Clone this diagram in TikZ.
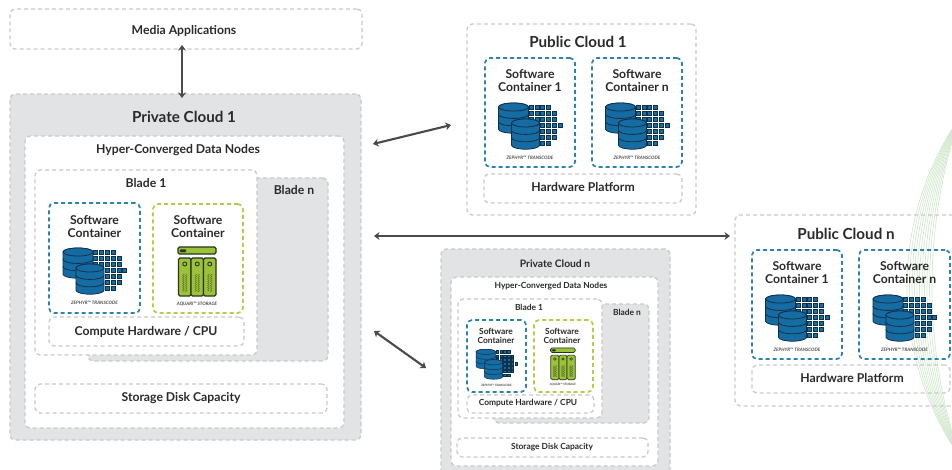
\documentclass[tikz,border=0pt]{standalone}
\usepackage{fontspec}
\setmainfont{Lato Bold}
\usetikzlibrary{
    arrows.meta,
    positioning,
    decorations.pathmorphing
}
\definecolor{boxgray}{HTML}{E2E3E4}
\definecolor{dashgray}{HTML}{C8C9CA}
\definecolor{dashblue}{HTML}{2E82AE}
\definecolor{dashgreen}{HTML}{B4CC48}
\definecolor{dbblue}{HTML}{146CA3}
\definecolor{dbdark}{HTML}{10304A}
\definecolor{nasgreen}{HTML}{9DC23A}
\definecolor{nasdark}{HTML}{26351F}
\definecolor{swirl}{HTML}{D3E8CF}
\definecolor{arrowgray}{HTML}{4A4A4A}
\definecolor{textdark}{HTML}{2A2A2A}
\tikzset{
    % Boxes
    dash box/.style={draw=#1,line width=1.3pt,dash pattern=on 4pt off 3pt,rounded corners=5pt,inner sep=0pt,outer sep=0pt},
    plain box/.style={dash box=dashgray},
    gray box/.style={dash box=dashgray,fill=boxgray},
    white box/.style={dash box=dashgray,fill=white},
    blue box/.style={dash box=dashblue,line width=1.7pt},
    green box/.style={dash box=dashgreen,line width=1.7pt},
    %
    % Text
    big title/.style={font=\fontsize{15.2}{18}\selectfont,text=textdark,yshift=-.5pt},
    mid title/.style={font=\fontsize{12.2}{15}\selectfont,text=textdark,yshift=-.5pt},
    cont title/.style={font=\fontsize{12.2}{13.5}\selectfont,text=textdark,align=center,yshift=-.5pt},
    small title/.style={font=\fontsize{8.4}{9.2}\selectfont,text=textdark,align=center,yshift=-.5pt},
    icon label/.style={font=\fontsize{4.6}{5}\selectfont\itshape,text=black!70,transform shape},
    %
    % Arrows
    arrow tip/.tip={Stealth[length=5.5pt,width=8pt]},
    biarr/.style={<->,>={arrow tip},line width=2.1pt,draw=arrowgray},
    %
    % Swirl
    swirl line/.style={draw=swirl,line width=.7pt},
    %
    % Icons
    square/.style={fill=dbblue,draw=dbdark,line width=.7pt},
    disc/.style={fill=dbblue,draw=dbdark,line width=.8pt},
    bay/.style={fill=nasgreen,draw=nasdark,line width=1.1pt,rounded corners=1.5pt},
    ring/.style={draw=nasdark,line width=.9pt},
    small icon/.style={scale=.65,
        square/.append style={line width=.45pt},
        disc/.append style={line width=.5pt},
        bay/.append style={line width=.7pt},
        ring/.append style={line width=.55pt}},
    pics/zephyr/.style={code={
        \foreach \r/\a/\b in {49/0/3,55.5/0/4,61/0/4,67/1/5,73/1/4,79/1/4,85/1/3}
            \foreach \c in {\a,...,\b}
                \draw[square] ({1.2+5.8*\c-2},\r-2) rectangle +(4,4);
        \dbstack{-16.5}{45}{15}
        \dbstack{-4.5}{61}{14}
        \node[icon label] (label) at (0,100) {ZEPHYR™ TRANSCODE};
    }},
    pics/aquari/.style={code={
        \draw[bay] (-20,43) rectangle (18,50);
        \draw[fill=nasdark,draw=nasdark,rounded corners=1pt] (-18,45.5) rectangle (-12,48);
        \foreach \x in {-19.5,-7,5.5} {
            \draw[bay] (\x,54) rectangle +(12.5,38);
            \draw[ring] (\x+6.25,60) circle (2);
            \draw[nasdark!45!nasgreen,line width=.5pt,decorate,decoration={zigzag,segment length=2pt,amplitude=.8pt}]
                (\x+4.8,70) -- +(0,18) (\x+7.7,70) -- +(0,18);
        }
        \node[icon label] (label) at (-1,100) {AQUARI™ STORAGE};
    }}
}
% draws one stack of three discs: centre x, top y, half width
\newcommand{\dbstack}[3]{
    \foreach \k in {2,1,0} {
        \draw[disc] ({#1-#3},{#2+4+\k*7.4}) -- +(0,7.4) arc[start angle=180,end angle=0,x radius=#3,y radius=4]
            -- +(0,-7.4) arc[start angle=0,end angle=-180,x radius=#3,y radius=4] -- cycle;
    }
    \draw[disc] (#1,#2+4) ellipse[x radius=#3,y radius=4];
}
% style, name, left, top, width, height
\newcommand{\boxat}[6]{
    \node[#1,anchor=north west,minimum width=#5pt,minimum height=#6pt] (#2) at (#3,#4) {};
}

\begin{document}
\begin{tikzpicture}[x=1pt,y=-1pt]
    \useasboundingbox (0,0) rectangle (952,469);
    \clip (0,0) rectangle (952,469);
    % background swirl
    \foreach \d in {5.3,5.05,...,2.7} {
        \pgfmathsetmacro{\rad}{10*(\d*\d+289)/(2*\d)}
        \draw[swirl line] ({960-10*\d+\rad},287) circle (\rad);
    }

    % media applications
    \boxat{plain box}{media}{10}{9}{352}{40}
    \node[mid title] (mediatitle) at (184,30) {Media Applications};

    % private cloud 1
    \boxat{gray box}{priv1}{10}{94}{351}{346}
    \node[big title] (priv1title) at (184,116) {Private Cloud 1};
    \boxat{white box}{priv1hc}{25}{136}{319}{292}
    \node[mid title] (priv1hctitle) at (178,150) {Hyper-Converged Data Nodes};
    \boxat{gray box}{priv1bn}{88}{178}{240}{183}
    \node[mid title] (priv1bntitle) at (294,190) {Blade n};
    \boxat{white box}{priv1b1}{35}{170}{222}{185}
    \node[mid title] (priv1b1title) at (146,183) {Blade 1};
    \boxat{blue box}{priv1sa}{49}{203}{91}{110}
    \node[cont title] (priv1satitle) at (94.5,226) {Software\\Container};
    \pic (priv1za) at (94.5,203) {zephyr};
    \boxat{green box}{priv1sb}{153}{204}{90}{109}
    \node[cont title] (priv1sbtitle) at (198,226) {Software\\Container};
    \pic (priv1aq) at (198,204) {aquari};
    \boxat{plain box}{priv1cpu}{49}{317}{195}{29}
    \node[mid title] (priv1cputitle) at (146,331) {Compute Hardware / CPU};
    \boxat{plain box}{priv1disk}{35}{384}{292}{29}
    \node[mid title] (priv1disktitle) at (181,398) {Storage Disk Capacity};

    % public cloud 1
    \boxat{plain box}{pub1}{467}{24}{229}{191}
    \node[big title] (pub1title) at (578,41) {Public Cloud 1};
    \boxat{blue box}{pub1sa}{485}{58}{90}{109}
    \node[cont title] (pub1satitle) at (530,80) {Software\\Container 1};
    \pic (pub1za) at (530,58) {zephyr};
    \boxat{blue box}{pub1sb}{592}{58}{90}{109}
    \node[cont title] (pub1sbtitle) at (637,80) {Software\\Container n};
    \pic (pub1zb) at (637,58) {zephyr};
    \boxat{plain box}{pub1hw}{484}{174}{198}{29}
    \node[mid title] (pub1hwtitle) at (583,187) {Hardware Platform};

    % public cloud n
    \boxat{plain box}{pubn}{735}{215}{230}{191}
    \node[big title] (pubntitle) at (846,233) {Public Cloud n};
    \boxat{blue box}{pubnsa}{752}{250}{90}{109}
    \node[cont title] (pubnsatitle) at (797,272) {Software\\Container 1};
    \pic (pubnza) at (797,250) {zephyr};
    \boxat{blue box}{pubnsb}{859}{250}{91}{109}
    \node[cont title] (pubnsbtitle) at (904.5,272) {Software\\Container n};
    \pic (pubnzb) at (904.5,250) {zephyr};
    \boxat{plain box}{pubnhw}{752}{365}{198}{28}
    \node[mid title] (pubnhwtitle) at (852,378) {Hardware Platform};

    % private cloud n
    \boxat{gray box}{privn}{441}{249}{229}{231}
    \node[mid title,font=\fontsize{10.3}{12}\selectfont] (privntitle) at (555,263) {Private Cloud n};
    \boxat{white box}{privnhc}{451}{277}{207}{189}
    \node[small title] (privnhctitle) at (551,286) {Hyper-Converged Data Nodes};
    \boxat{gray box}{privnbn}{494}{304}{155}{119}
    \node[small title] (privnbntitle) at (627,312) {Blade n};
    \boxat{white box}{privnb1}{458}{299}{144}{119}
    \node[small title] (privnb1title) at (529,307) {Blade 1};
    \boxat{blue box}{privnsa}{467}{320}{59}{72}
    \node[small title] (privnsatitle) at (496,335.5) {Software\\Container};
    \pic[small icon] (privnza) at (496.5,320) {zephyr};
    \boxat{green box}{privnsb}{534}{320}{59}{72}
    \node[small title] (privnsbtitle) at (562,335.5) {Software\\Container};
    \pic[small icon] (privnaq) at (563.5,320) {aquari};
    \boxat{plain box}{privncpu}{467}{395}{127}{18}
    \node[small title] (privncputitle) at (528,403) {Compute Hardware / CPU};
    \boxat{plain box}{privndisk}{457}{438}{191}{19}
    \node[small title] (privndisktitle) at (552,447) {Storage Disk Capacity};

    % arrows
    \draw[biarr] ([yshift=4pt]media.south -| 182,0) -- ([yshift=-4pt]priv1.north -| 182,0);
    \draw[biarr] ([shift={(12,-123)}]priv1.east) -- ([shift={(-16,5.5)}]pub1.west);
    \draw[biarr] ([shift={(13,-31)}]priv1.east) -- ([shift={(-5,-74.5)}]pubn.west);
    \draw[biarr] ([shift={(13,64)}]priv1.east) -- ([shift={(-15,3.5)}]privn.west);
\end{tikzpicture}
\end{document}
